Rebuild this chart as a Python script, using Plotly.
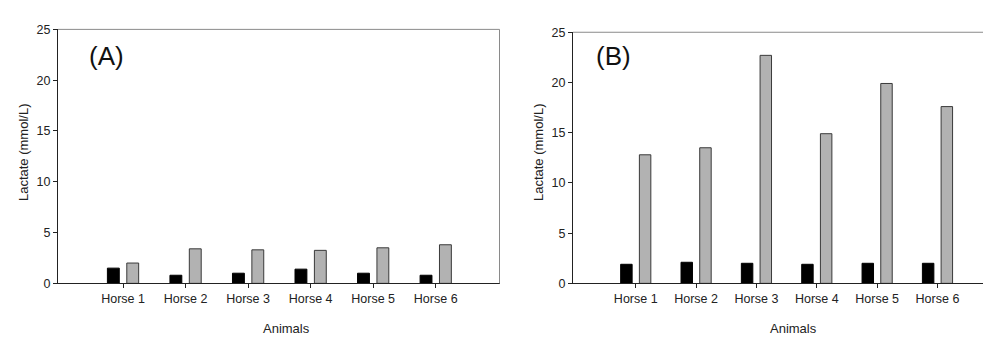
import plotly.graph_objects as go

categories = ["Horse 1", "Horse 2", "Horse 3", "Horse 4", "Horse 5", "Horse 6"]
a_black = [1.5, 0.8, 1.0, 1.4, 1.0, 0.8]
a_gray = [2.0, 3.4, 3.3, 3.25, 3.5, 3.8]
b_black = [1.9, 2.1, 2.0, 1.9, 2.0, 2.0]
b_gray = [12.8, 13.5, 22.7, 14.9, 19.9, 17.6]
y_ticks = [0, 5, 10, 15, 20, 25]

W, H = 991, 337
xpos = list(range(len(categories)))

fig = go.Figure()
for xa, ya, blk, gry in [("x", "y", a_black, a_gray), ("x2", "y2", b_black, b_gray)]:
    fig.add_trace(go.Bar(x=xpos, y=blk, xaxis=xa, yaxis=ya, width=0.19, offset=-0.25,
                         marker=dict(color="#000000", line=dict(color="#000000", width=1)),
                         showlegend=False))
    fig.add_trace(go.Bar(x=xpos, y=gry, xaxis=xa, yaxis=ya, width=0.19, offset=0.06,
                         marker=dict(color="#b2b2b2", line=dict(color="#3a3a3a", width=1)),
                         showlegend=False))

FAM = "Liberation Sans, Arial, sans-serif"
font = dict(family=FAM, size=12.5, color="#222222")
title_font = dict(family=FAM, size=13, color="#222222")
axis_common = dict(showgrid=False, zeroline=False, showline=True, linecolor="#222222",
                   linewidth=1, ticks="outside", ticklen=4, tickcolor="#222222",
                   tickfont=font)

ax_dom = [50 / W, 491.5 / W]
bx_dom = [565 / W, 985 / W]
ay_dom = [(H - 280) / H, (H - 15) / H]
by_dom = [(H - 280) / H, (H - 18) / H]

fig.update_layout(
    width=W, height=H, margin=dict(l=0, r=0, t=0, b=0),
    paper_bgcolor="white", plot_bgcolor="white", barmode="overlay",
    xaxis=dict(domain=ax_dom, range=[-1.04, 6.02], tickvals=xpos, ticktext=categories,
               anchor="y", **axis_common),
    yaxis=dict(domain=ay_dom, range=[0, 25], tickvals=y_ticks, anchor="x", **axis_common),
    xaxis2=dict(domain=bx_dom, range=[-1.04, 5.92], tickvals=xpos, ticktext=categories,
                anchor="y2", **axis_common),
    yaxis2=dict(domain=by_dom, range=[0, 25], tickvals=y_ticks, anchor="x2", **axis_common),
    font=font,
)

shapes = []
for xd, yd in [(ax_dom, ay_dom), (bx_dom, by_dom)]:
    shapes.append(dict(type="line", xref="paper", yref="paper", x0=xd[0], x1=xd[1], y0=yd[1], y1=yd[1],
                       line=dict(color="#8a8a8a", width=1)))
    shapes.append(dict(type="line", xref="paper", yref="paper", x0=xd[1], x1=xd[1], y0=yd[0], y1=yd[1],
                       line=dict(color="#8a8a8a", width=1)))
fig.update_layout(shapes=shapes)

label_font = dict(family=FAM, size=26, color="#111111")
ann = []
ann.append(dict(text="(A)", x=79 / W, y=(H - 43) / H, xref="paper", yref="paper", showarrow=False,
                xanchor="left", yanchor="middle", font=label_font))
ann.append(dict(text="(B)", x=586 / W, y=(H - 43) / H, xref="paper", yref="paper", showarrow=False,
                xanchor="left", yanchor="middle", font=label_font))
for xc in [278, 785]:
    ann.append(dict(text="Animals", x=xc / W, y=(H - 327) / H, xref="paper", yref="paper", showarrow=False,
                    xanchor="center", yanchor="middle", font=title_font))
for xc, yc in [(15, 143), (530, 143)]:
    ann.append(dict(text="Lactate (mmol/L)", x=xc / W, y=(H - yc) / H, xref="paper", yref="paper",
                    showarrow=False, textangle=-90, xanchor="center", yanchor="middle", font=title_font))
fig.update_layout(annotations=ann)

fig.write_html("out.html")
